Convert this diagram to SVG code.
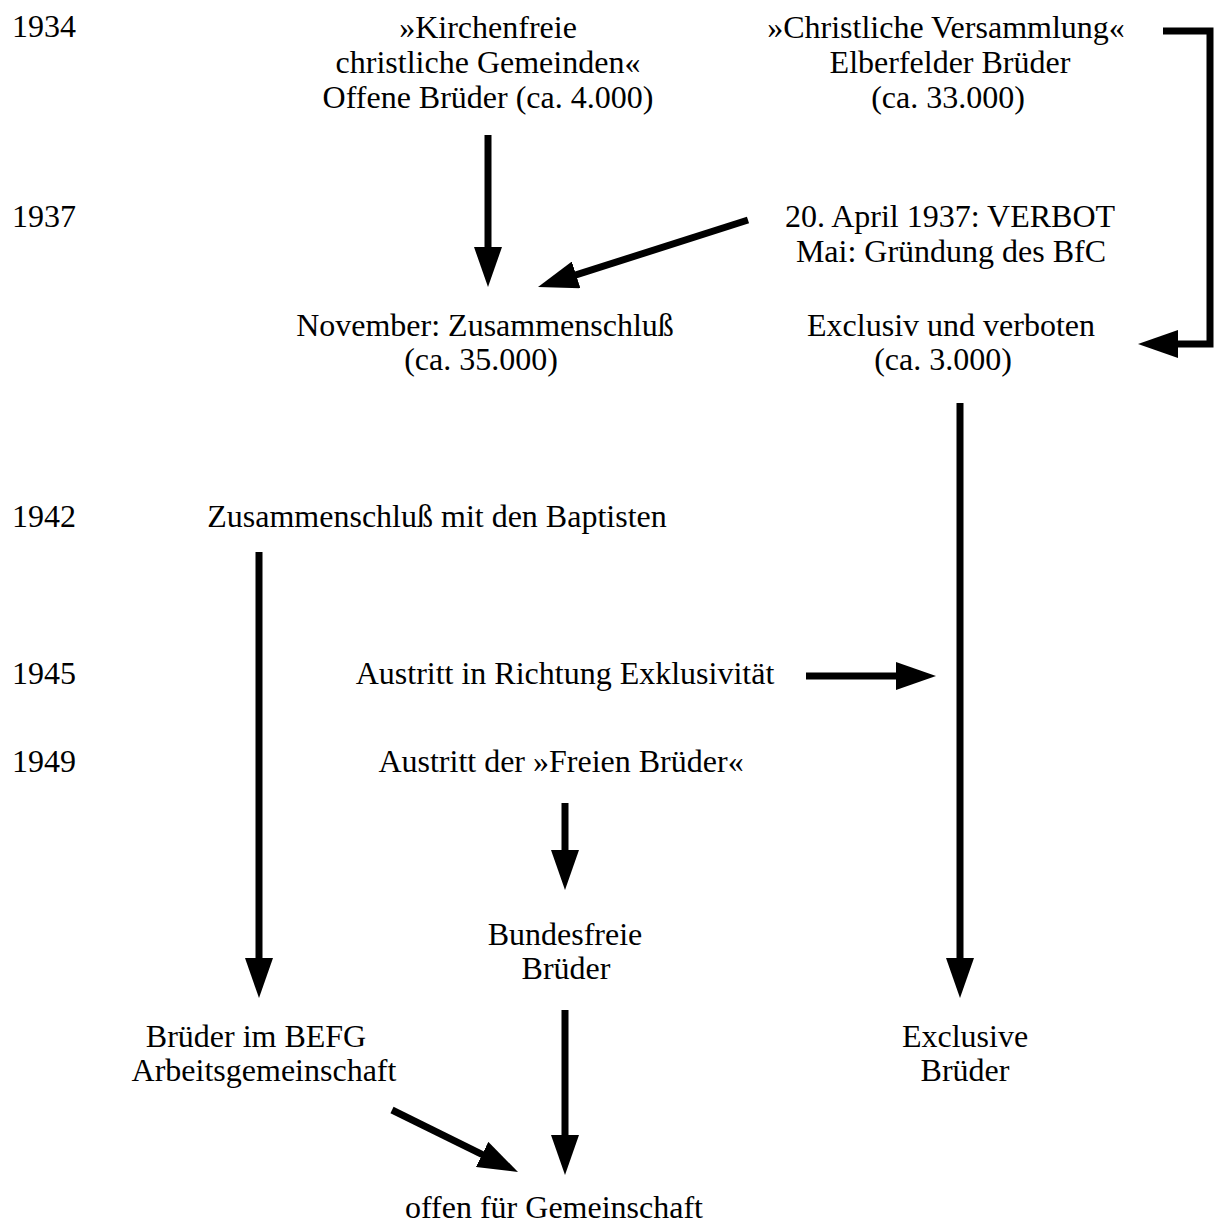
<svg xmlns="http://www.w3.org/2000/svg" width="1214" height="1223" viewBox="0 0 1214 1223">
<style>
text{font-family:"Liberation Serif","Times New Roman",serif;font-size:32px;fill:#000}
.c{text-anchor:middle}
.a{fill:none;stroke:#000;stroke-width:7;marker-end:url(#ah)}
</style>
<defs>
<marker id="ah" markerUnits="userSpaceOnUse" markerWidth="40" markerHeight="28" refX="10" refY="14" orient="auto" viewBox="0 0 40 28">
<path d="M0,0 L40,14 L0,28 z" fill="#000"/>
</marker>
</defs>
<rect width="1214" height="1223" fill="#fff"/>
<g id="years">
<text x="12" y="37">1934</text>
<text x="12" y="227">1937</text>
<text x="12" y="527">1942</text>
<text x="12" y="684">1945</text>
<text x="12" y="772">1949</text>
</g>
<g id="n-kirchenfreie"><text class="c" x="488" y="38">»Kirchenfreie</text><text class="c" x="488" y="73">christliche Gemeinden«</text><text class="c" x="488" y="108">Offene Brüder (ca. 4.000)</text></g>
<g id="n-versammlung"><text class="c" x="946" y="38">»Christliche Versammlung«</text><text class="c" x="950" y="73">Elberfelder Brüder</text><text class="c" x="948" y="108">(ca. 33.000)</text></g>
<g id="n-verbot"><text class="c" x="950" y="227">20. April 1937: VERBOT</text><text class="c" x="951" y="262">Mai: Gründung des BfC</text></g>
<g id="n-november"><text class="c" x="485" y="336">November: Zusammenschluß</text><text class="c" x="481" y="370">(ca. 35.000)</text></g>
<g id="n-exclusiv"><text class="c" x="951" y="336">Exclusiv und verboten</text><text class="c" x="943" y="370">(ca. 3.000)</text></g>
<g id="n-baptisten"><text class="c" x="437" y="527">Zusammenschluß mit den Baptisten</text></g>
<g id="n-austritt1945"><text class="c" x="565" y="684">Austritt in Richtung Exklusivität</text></g>
<g id="n-austritt1949"><text class="c" x="561" y="772">Austritt der »Freien Brüder«</text></g>
<g id="n-bundesfreie"><text class="c" x="565" y="945">Bundesfreie</text><text class="c" x="566" y="979">Brüder</text></g>
<g id="n-befg"><text class="c" x="256" y="1047">Brüder im BEFG</text><text class="c" x="264" y="1081">Arbeitsgemeinschaft</text></g>
<g id="n-exclusive"><text class="c" x="965" y="1047">Exclusive</text><text class="c" x="965" y="1081">Brüder</text></g>
<g id="n-offen"><text class="c" x="554" y="1218">offen für Gemeinschaft</text></g>
<g id="connectors">
<path class="a" d="M488,135 V257"/>
<path class="a" d="M748,220 L566.6,277.9"/>
<path class="a" d="M1163,31 H1210 V344 H1168"/>
<path class="a" d="M960,403 V968"/>
<path class="a" d="M259,552 V968"/>
<path class="a" d="M806,676 H906"/>
<path class="a" d="M565,803 V860"/>
<path class="a" d="M565,1010 V1145"/>
<path class="a" d="M392,1110 L491.1,1158.8"/>
</g>
</svg>
